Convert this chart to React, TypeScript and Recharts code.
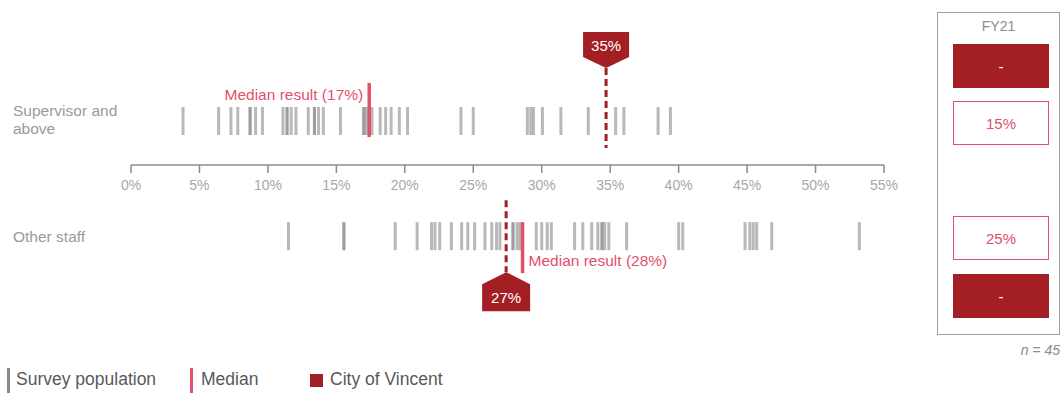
import React from 'react';
import { ComposedChart, Scatter, XAxis, YAxis } from 'recharts';

// axis
const axisTicks = [0, 5, 10, 15, 20, 25, 30, 35, 40, 45, 50, 55];

// survey population results (%), one mark per council
const supervisorScores = [
  3.8, 6.4, 7.3, 7.8, 8.7, 8.7, 9.1, 9.6, 11.1, 11.4, 11.4, 11.7, 12.05, 12.95, 13.4, 13.4,
  13.7, 14.05, 15.3, 17.0, 17.0, 17.2, 17.6, 18.2, 18.6, 19.0, 19.6, 20.2, 24.1, 25.0,
  28.95, 29.2, 29.4, 30.05, 31.4, 33.4, 35.4, 36.0, 38.5, 39.4,
];
const otherScores = [
  11.5, 15.55, 15.55, 19.3, 20.9, 21.95, 22.2, 22.55, 23.4, 24.15, 24.6, 25.1, 25.85, 26.35,
  26.7, 26.95, 27.9, 27.9, 28.2, 28.4, 29.6, 30.0, 30.4, 30.7, 32.4, 33.0, 33.65, 34.1, 34.4,
  34.4, 34.6, 34.9, 36.2, 40.0, 40.3, 44.85, 45.2, 45.45, 45.7, 46.8, 53.2,
];

const rowLabels = [['Supervisor and', 'above'], ['Other staff']];
const medians = [17.4, 28.6];
const medianLabels = ['Median result (17%)', 'Median result (28%)'];
const cityScores = [34.7, 27.4];
const cityLabels = ['35%', '27%'];

// FY21 comparison panel
const fyYear = 'FY21';
const fyCity = ['-', '-'];
const fyMedian = ['15%', '25%'];
const sampleSize = 45;

const DARK = '#a31f24';
const PINK = '#e2506c';
const FONT = '"Liberation Sans", Arial, sans-serif';

const ROW_Y = [1.6, 4.45];

const Tick = (p: any) => (
  <rect x={p.cx - 1.5} y={p.cy - 14} width={3} height={28} fill="#8a8a8a" fillOpacity={0.6} />
);

const MedianTop = (p: any) => (
  <g>
    <rect x={p.cx - 1.75} y={p.cy - 38} width={3.5} height={54} fill={PINK} />
    <text x={p.cx - 6} y={p.cy - 26} dy="0.35em" textAnchor="end" fontSize={15.5} fill={PINK}>
      {p.payload.label}
    </text>
  </g>
);

const MedianBottom = (p: any) => (
  <g>
    <rect x={p.cx - 1.75} y={p.cy - 14} width={3.5} height={51} fill={PINK} />
    <text x={p.cx + 6} y={p.cy + 24} dy="0.35em" textAnchor="start" fontSize={15.5} fill={PINK}>
      {p.payload.label}
    </text>
  </g>
);

const CityTop = (p: any) => {
  const { cx, cy } = p;
  const top = cy - 89;
  const sh = cy - 64;
  const tip = cy - 53;
  return (
    <g>
      <line x1={cx} x2={cx} y1={tip} y2={cy + 27} stroke={DARK} strokeWidth={3} strokeDasharray="7 4" />
      <path
        d={`M${cx - 23},${top} L${cx + 23},${top} L${cx + 23},${sh} L${cx},${tip} L${cx - 23},${sh} Z`}
        fill={DARK}
      />
      <text x={cx} y={cy - 75} dy="0.35em" textAnchor="middle" fontSize={15} fill="#fff">
        {p.payload.label}
      </text>
    </g>
  );
};

const CityBottom = (p: any) => {
  const { cx, cy } = p;
  const tip = cy + 36;
  const sh = cy + 48;
  const bot = cy + 75;
  return (
    <g>
      <line x1={cx} x2={cx} y1={cy - 36} y2={tip} stroke={DARK} strokeWidth={3} strokeDasharray="7 4" />
      <path
        d={`M${cx},${tip} L${cx + 24},${sh} L${cx + 24},${bot} L${cx - 24},${bot} L${cx - 24},${sh} Z`}
        fill={DARK}
      />
      <text x={cx} y={cy + 62} dy="0.35em" textAnchor="middle" fontSize={15} fill="#fff">
        {p.payload.label}
      </text>
    </g>
  );
};

const fyBox = (top: number, filled: boolean, text: string) => (
  <div
    style={{
      position: 'absolute',
      left: 953,
      top,
      width: 96,
      height: 44,
      boxSizing: 'border-box',
      background: filled ? DARK : '#fff',
      border: filled ? 'none' : `1.5px solid ${PINK}`,
      color: filled ? '#fff' : PINK,
      fontSize: 15,
      display: 'flex',
      alignItems: 'center',
      justifyContent: 'center',
    }}
  >
    {text}
  </div>
);

export default function App() {
  const supData = supervisorScores.map((x) => ({ x, y: ROW_Y[0] }));
  const othData = otherScores.map((x) => ({ x, y: ROW_Y[1] }));

  return (
    <div style={{ position: 'absolute', left: 0, top: 0, width: 1062, height: 394, fontFamily: FONT, background: '#fff' }}>
      {/* row labels */}
      <div style={{ position: 'absolute', left: 13, top: 102, fontSize: 15.5, lineHeight: '18px', color: '#9a9a9a' }}>
        {rowLabels[0].map((t) => (
          <div key={t}>{t}</div>
        ))}
      </div>
      <div style={{ position: 'absolute', left: 13, top: 228, fontSize: 15.5, lineHeight: '18px', color: '#9a9a9a' }}>
        {rowLabels[1][0]}
      </div>

      {/* top strip with axis */}
      <div style={{ position: 'absolute', left: 0, top: 0 }}>
        <ComposedChart width={930} height={200} margin={{ top: 0, right: 46, bottom: 5, left: 131 }}>
          <XAxis
            type="number"
            dataKey="x"
            domain={[0, 55]}
            ticks={axisTicks}
            interval={0}
            allowDataOverflow
            tickFormatter={(v: number) => `${v}%`}
            axisLine={{ stroke: '#8c8c8c', strokeWidth: 1.5 }}
            tickLine={{ stroke: '#8c8c8c', strokeWidth: 1.5 }}
            tickSize={8}
            tickMargin={7}
            tick={{ fill: '#a8a8a8', fontSize: 14 }}
            height={30}
          />
          <YAxis type="number" dataKey="y" domain={[0, 6]} hide />
          <Scatter data={supData} shape={Tick} isAnimationActive={false} />
          <Scatter data={[{ x: medians[0], y: ROW_Y[0], label: medianLabels[0] }]} shape={MedianTop} isAnimationActive={false} />
          <Scatter data={[{ x: cityScores[0], y: ROW_Y[0], label: cityLabels[0] }]} shape={CityTop} isAnimationActive={false} />
        </ComposedChart>
      </div>

      {/* bottom strip */}
      <div style={{ position: 'absolute', left: 0, top: 200 }}>
        <ComposedChart width={930} height={140} margin={{ top: 0, right: 46, bottom: 0, left: 131 }}>
          <XAxis type="number" dataKey="x" domain={[0, 55]} allowDataOverflow hide />
          <YAxis type="number" dataKey="y" domain={[0, 6]} hide />
          <Scatter data={othData} shape={Tick} isAnimationActive={false} />
          <Scatter data={[{ x: medians[1], y: ROW_Y[1], label: medianLabels[1] }]} shape={MedianBottom} isAnimationActive={false} />
          <Scatter data={[{ x: cityScores[1], y: ROW_Y[1], label: cityLabels[1] }]} shape={CityBottom} isAnimationActive={false} />
        </ComposedChart>
      </div>

      {/* FY21 panel */}
      <div
        style={{
          position: 'absolute',
          left: 937,
          top: 12,
          width: 123,
          height: 323,
          boxSizing: 'border-box',
          border: '1.5px solid #a0a0a0',
        }}
      />
      <div style={{ position: 'absolute', left: 937, top: 18, width: 123, textAlign: 'center', fontSize: 14, color: '#8c8c8c' }}>
        {fyYear}
      </div>
      {fyBox(44, true, fyCity[0])}
      {fyBox(101, false, fyMedian[0])}
      {fyBox(216, false, fyMedian[1])}
      {fyBox(274, true, fyCity[1])}
      <div style={{ position: 'absolute', right: 2, top: 342, fontSize: 14, fontStyle: 'italic', color: '#8c8c8c' }}>
        n = {sampleSize}
      </div>

      {/* legend */}
      <div style={{ position: 'absolute', left: 7, top: 368, width: 2.5, height: 25, background: '#8a8a8a' }} />
      <div style={{ position: 'absolute', left: 16, top: 369, fontSize: 17.5, color: '#595959' }}>Survey population</div>
      <div style={{ position: 'absolute', left: 190, top: 368, width: 2.5, height: 25, background: PINK }} />
      <div style={{ position: 'absolute', left: 201, top: 369, fontSize: 17.5, color: '#595959' }}>Median</div>
      <div style={{ position: 'absolute', left: 310, top: 374, width: 13, height: 13, background: DARK }} />
      <div style={{ position: 'absolute', left: 330, top: 369, fontSize: 17.5, color: '#595959' }}>City of Vincent</div>
    </div>
  );
}
